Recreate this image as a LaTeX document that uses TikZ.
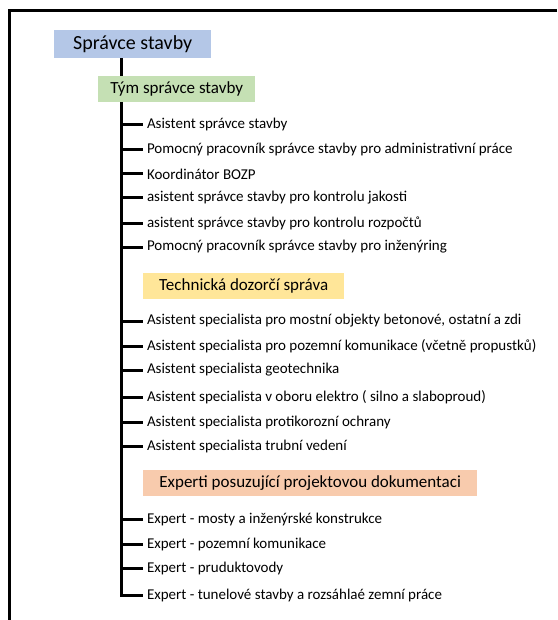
\documentclass[tikz,border=0pt]{standalone}
\usepackage{fontspec}
\setmainfont{Carlito}
\definecolor{headblue}{HTML}{B4C7E7}
\definecolor{teamgreen}{HTML}{C5E0B4}
\definecolor{techyellow}{HTML}{FFE699}
\definecolor{expertorange}{HTML}{F8CBAD}
\tikzset{
  rule/.style={line width=3pt},
  groupbox/.style={anchor=north west, inner sep=0pt, font=\fontsize{17}{19}\selectfont},
  item/.style={anchor=west, inner sep=0pt, outer sep=0pt, font=\fontsize{15}{17}\selectfont, xshift=4pt},
}
\begin{document}
\begin{tikzpicture}[x=1pt,y=-1pt]
\useasboundingbox (0,0) rectangle (557,620);
% outer frame (top and left edges)
\draw[rule] (557,10.5) -- (9.5,10.5) -- (9.5,620);

% heads
\node[groupbox, fill=headblue, minimum width=157pt, minimum height=28pt,
      font=\fontsize{20}{22}\selectfont] (head) at (54,30) {Správce stavby};
\node[groupbox, fill=teamgreen, minimum width=157pt, minimum height=26pt] (team) at (98,76) {Tým správce stavby};

% trunk position
\coordinate (tx) at (121,0);

% items of the team
\foreach \n/\y/\t in {
  a1/125/Asistent správce stavby,
  a2/150/Pomocný pracovník správce stavby pro administrativní práce,
  a3/174/Koordinátor BOZP,
  a4/198/asistent správce stavby pro kontrolu jakosti,
  a5/223/asistent správce stavby pro kontrolu rozpočtů,
  a6/247/Pomocný pracovník správce stavby pro inženýring}
  \node[item] (\n) at (143,\y) {\t};

\node[groupbox, fill=techyellow, minimum width=201pt, minimum height=26pt] (tech) at (143,273) {Technická dozorčí správa};

\foreach \n/\y/\t in {
  b1/321/{Asistent specialista pro mostní objekty betonové, ostatní a zdi},
  b2/346/{Asistent specialista pro pozemní komunikace (včetně propustků)},
  b3/370/{Asistent specialista geotechnika},
  b4/397/{Asistent specialista v oboru elektro ( silno a slaboproud)},
  b5/422/{Asistent specialista protikorozní ochrany},
  b6/446/{Asistent specialista trubní vedení}}
  \node[item] (\n) at (143,\y) {\t};

\node[groupbox, fill=expertorange, minimum width=334pt, minimum height=26pt] (expert) at (143,470) {Experti posuzující projektovou dokumentaci};

\foreach \n/\y/\t in {
  c1/519/{Expert - mosty a inženýrské konstrukce},
  c2/544/{Expert - pozemní komunikace},
  c3/568/{Expert - pruduktovody},
  c4/595/{Expert - tunelové stavby a rozsáhlaé zemní práce}}
  \node[item] (\n) at (143,\y) {\t};

% connectors
\draw[rule] (head.south -| tx) -- (team.north -| tx);
\draw[rule] (team.south -| tx) -- (tx |- c4.west) -- ([xshift=-4pt]c4.west);
\foreach \n in {a1,a2,a3,a4,a5,a6,b1,b2,b3,b4,b5,b6,c1,c2,c3}
  \draw[rule] (tx |- \n.west) -- ([xshift=-4pt]\n.west);
\end{tikzpicture}
\end{document}
